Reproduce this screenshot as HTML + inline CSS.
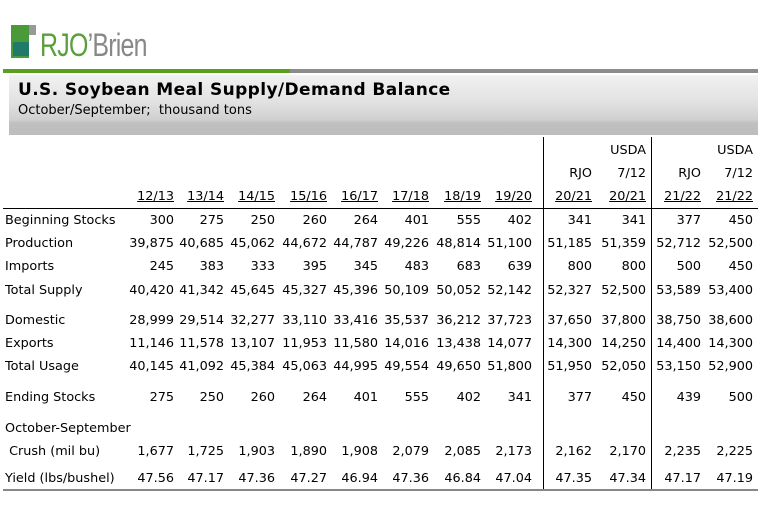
<!DOCTYPE html>
<html><head><meta charset="utf-8"><style>
body{margin:0;width:763px;height:516px;background:#fff;position:relative;overflow:hidden;font-family:"DejaVu Sans","Liberation Sans",sans-serif;color:#000}
.a{position:absolute;white-space:nowrap}
.r{position:absolute;height:18px;left:0;width:763px;font-size:12.8px;line-height:18px;margin-top:2px}
.r span{position:absolute;width:70px;text-align:right}
.r .l{text-align:left;width:140px;left:5px}
.c1{left:104px}.c2{left:154px}.c3{left:205px}.c4{left:257px}.c5{left:308px}.c6{left:359px}.c7{left:411px}.c8{left:462px}.c9{left:522px}.c10{left:576px}.c11{left:631px}.c12{left:683px}
.u{text-decoration:underline}
</style></head><body>
<div class="a" style="left:11px;top:25px;width:18px;height:33px;background:#4a9a3a"></div>
<div class="a" style="left:29px;top:25px;width:7px;height:10px;background:#999"></div>
<div class="a" style="left:13px;top:42px;width:16px;height:14px;background:#1f7a6a"></div>
<div class="a" style="left:40px;top:27px;font-family:'Liberation Sans',sans-serif;font-size:32px;line-height:36px;letter-spacing:-1px;transform:scaleX(0.78);transform-origin:0 0"><span style="color:#5aa03a">RJO</span><span style="color:#888">’Brien</span></div>
<div class="a" style="left:3px;top:69px;width:287px;height:4px;background:#5aa01e"></div>
<div class="a" style="left:290px;top:69px;width:468px;height:4px;background:#8c8c8c"></div>
<div class="a" style="left:9px;top:75px;width:749px;height:60px;background:linear-gradient(#f2f2f2 0%,#ececec 15%,#e4e4e4 40%,#d6d6d6 65%,#cfcfcf 75%,#c0c0c0 80%,#bdbdbd 100%)"></div>
<div class="a" style="left:18px;top:79px;font-size:17px;font-weight:bold;line-height:22px;letter-spacing:0.4px">U.S. Soybean Meal Supply/Demand Balance</div>
<div class="a" style="left:18px;top:103px;font-size:13px;line-height:16px">October/September;&nbsp; thousand tons</div>
<div class="a" style="left:3px;top:208px;width:755px;height:1px;background:#000"></div>
<div class="a" style="left:543px;top:137px;width:1px;height:353px;background:#000"></div>
<div class="a" style="left:651px;top:137px;width:1px;height:353px;background:#000"></div>
<div class="a" style="left:3px;top:489px;width:755px;height:2px;background:#888"></div>
<div class="r" style="top:140px"><span class="c10">USDA</span><span class="c12">USDA</span></div>
<div class="r" style="top:163px"><span class="c9">RJO</span><span class="c10">7/12</span><span class="c11">RJO</span><span class="c12">7/12</span></div>
<div class="r" style="top:186px"><span class="c1 u">12/13</span><span class="c2 u">13/14</span><span class="c3 u">14/15</span><span class="c4 u">15/16</span><span class="c5 u">16/17</span><span class="c6 u">17/18</span><span class="c7 u">18/19</span><span class="c8 u">19/20</span><span class="c9 u">20/21</span><span class="c10 u">20/21</span><span class="c11 u">21/22</span><span class="c12 u">21/22</span></div>
<div class="r" style="top:210px"><span class="l">Beginning Stocks</span><span class="c1">300</span><span class="c2">275</span><span class="c3">250</span><span class="c4">260</span><span class="c5">264</span><span class="c6">401</span><span class="c7">555</span><span class="c8">402</span><span class="c9">341</span><span class="c10">341</span><span class="c11">377</span><span class="c12">450</span></div>
<div class="r" style="top:233px"><span class="l">Production</span><span class="c1">39,875</span><span class="c2">40,685</span><span class="c3">45,062</span><span class="c4">44,672</span><span class="c5">44,787</span><span class="c6">49,226</span><span class="c7">48,814</span><span class="c8">51,100</span><span class="c9">51,185</span><span class="c10">51,359</span><span class="c11">52,712</span><span class="c12">52,500</span></div>
<div class="r" style="top:256px"><span class="l">Imports</span><span class="c1">245</span><span class="c2">383</span><span class="c3">333</span><span class="c4">395</span><span class="c5">345</span><span class="c6">483</span><span class="c7">683</span><span class="c8">639</span><span class="c9">800</span><span class="c10">800</span><span class="c11">500</span><span class="c12">450</span></div>
<div class="r" style="top:280px"><span class="l">Total Supply</span><span class="c1">40,420</span><span class="c2">41,342</span><span class="c3">45,645</span><span class="c4">45,327</span><span class="c5">45,396</span><span class="c6">50,109</span><span class="c7">50,052</span><span class="c8">52,142</span><span class="c9">52,327</span><span class="c10">52,500</span><span class="c11">53,589</span><span class="c12">53,400</span></div>
<div class="r" style="top:310px"><span class="l">Domestic</span><span class="c1">28,999</span><span class="c2">29,514</span><span class="c3">32,277</span><span class="c4">33,110</span><span class="c5">33,416</span><span class="c6">35,537</span><span class="c7">36,212</span><span class="c8">37,723</span><span class="c9">37,650</span><span class="c10">37,800</span><span class="c11">38,750</span><span class="c12">38,600</span></div>
<div class="r" style="top:333px"><span class="l">Exports</span><span class="c1">11,146</span><span class="c2">11,578</span><span class="c3">13,107</span><span class="c4">11,953</span><span class="c5">11,580</span><span class="c6">14,016</span><span class="c7">13,438</span><span class="c8">14,077</span><span class="c9">14,300</span><span class="c10">14,250</span><span class="c11">14,400</span><span class="c12">14,300</span></div>
<div class="r" style="top:356px"><span class="l">Total Usage</span><span class="c1">40,145</span><span class="c2">41,092</span><span class="c3">45,384</span><span class="c4">45,063</span><span class="c5">44,995</span><span class="c6">49,554</span><span class="c7">49,650</span><span class="c8">51,800</span><span class="c9">51,950</span><span class="c10">52,050</span><span class="c11">53,150</span><span class="c12">52,900</span></div>
<div class="r" style="top:387px"><span class="l">Ending Stocks</span><span class="c1">275</span><span class="c2">250</span><span class="c3">260</span><span class="c4">264</span><span class="c5">401</span><span class="c6">555</span><span class="c7">402</span><span class="c8">341</span><span class="c9">377</span><span class="c10">450</span><span class="c11">439</span><span class="c12">500</span></div>
<div class="r" style="top:418px"><span class="l">October-September</span></div>
<div class="r" style="top:441px"><span class="l">&nbsp;Crush (mil bu)</span><span class="c1">1,677</span><span class="c2">1,725</span><span class="c3">1,903</span><span class="c4">1,890</span><span class="c5">1,908</span><span class="c6">2,079</span><span class="c7">2,085</span><span class="c8">2,173</span><span class="c9">2,162</span><span class="c10">2,170</span><span class="c11">2,235</span><span class="c12">2,225</span></div>
<div class="r" style="top:468px"><span class="l">Yield (lbs/bushel)</span><span class="c1">47.56</span><span class="c2">47.17</span><span class="c3">47.36</span><span class="c4">47.27</span><span class="c5">46.94</span><span class="c6">47.36</span><span class="c7">46.84</span><span class="c8">47.04</span><span class="c9">47.35</span><span class="c10">47.34</span><span class="c11">47.17</span><span class="c12">47.19</span></div>
</body></html>
